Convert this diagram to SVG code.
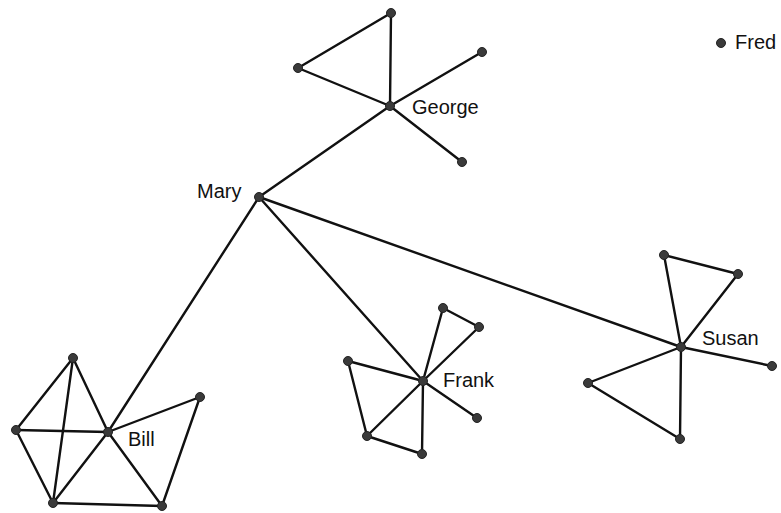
<svg xmlns="http://www.w3.org/2000/svg" width="781" height="513" viewBox="0 0 781 513">
<style>
.e{stroke:#111;stroke-width:2.4;fill:none;stroke-linecap:round}
.n{fill:#3a3a3a;stroke:#222;stroke-width:1}
.t{font-family:"Liberation Sans",Arial,sans-serif;font-size:20px;fill:#111}
</style>
<rect width="781" height="513" fill="#fff"/>
<g id="connectors" class="e">
<line x1="391" y1="13" x2="298" y2="68"/>
<line x1="391" y1="13" x2="390" y2="106"/>
<line x1="298" y1="68" x2="390" y2="106"/>
<line x1="482" y1="52" x2="390" y2="106"/>
<line x1="390" y1="106" x2="462" y2="162"/>
<line x1="390" y1="106" x2="259" y2="197"/>
<line x1="259" y1="197" x2="108" y2="432"/>
<line x1="259" y1="197" x2="423" y2="381"/>
<line x1="259" y1="197" x2="681" y2="347"/>
<line x1="73" y1="358" x2="16" y2="430"/>
<line x1="73" y1="358" x2="53" y2="503"/>
<line x1="73" y1="358" x2="108" y2="432"/>
<line x1="16" y1="430" x2="108" y2="432"/>
<line x1="16" y1="430" x2="53" y2="503"/>
<line x1="108" y1="432" x2="53" y2="503"/>
<line x1="108" y1="432" x2="162" y2="506"/>
<line x1="108" y1="432" x2="200" y2="397"/>
<line x1="200" y1="397" x2="162" y2="506"/>
<line x1="53" y1="503" x2="162" y2="506"/>
<line x1="423" y1="381" x2="443" y2="308"/>
<line x1="443" y1="308" x2="479" y2="327"/>
<line x1="479" y1="327" x2="423" y2="381"/>
<line x1="423" y1="381" x2="348" y2="361"/>
<line x1="348" y1="361" x2="367" y2="436"/>
<line x1="367" y1="436" x2="423" y2="381"/>
<line x1="367" y1="436" x2="422" y2="454"/>
<line x1="422" y1="454" x2="423" y2="381"/>
<line x1="423" y1="381" x2="477" y2="418"/>
<line x1="681" y1="347" x2="664" y2="255"/>
<line x1="664" y1="255" x2="738" y2="274"/>
<line x1="738" y1="274" x2="681" y2="347"/>
<line x1="681" y1="347" x2="772" y2="366"/>
<line x1="681" y1="347" x2="588" y2="383"/>
<line x1="588" y1="383" x2="680" y2="439"/>
<line x1="680" y1="439" x2="681" y2="347"/>
</g>
<g id="george-cluster" class="n">
<circle cx="391" cy="13" r="4.5"/>
<circle cx="298" cy="68" r="4.5"/>
<circle cx="482" cy="52" r="4.5"/>
<circle cx="462" cy="162" r="4.5"/>
</g>
<g id="george"><circle class="n" cx="390" cy="106" r="4.5"/><text class="t" x="412" y="114">George</text></g>
<g id="mary"><circle class="n" cx="259" cy="197" r="4.5"/><text class="t" x="197" y="198">Mary</text></g>
<g id="bill-cluster" class="n">
<circle cx="73" cy="358" r="4.5"/>
<circle cx="16" cy="430" r="4.5"/>
<circle cx="200" cy="397" r="4.5"/>
<circle cx="53" cy="503" r="4.5"/>
<circle cx="162" cy="506" r="4.5"/>
</g>
<g id="bill"><circle class="n" cx="108" cy="432" r="4.5"/><text class="t" x="128" y="446">Bill</text></g>
<g id="frank-cluster" class="n">
<circle cx="443" cy="308" r="4.5"/>
<circle cx="479" cy="327" r="4.5"/>
<circle cx="348" cy="361" r="4.5"/>
<circle cx="477" cy="418" r="4.5"/>
<circle cx="367" cy="436" r="4.5"/>
<circle cx="422" cy="454" r="4.5"/>
</g>
<g id="frank"><circle class="n" cx="423" cy="381" r="4.5"/><text class="t" x="443" y="387">Frank</text></g>
<g id="susan-cluster" class="n">
<circle cx="664" cy="255" r="4.5"/>
<circle cx="738" cy="274" r="4.5"/>
<circle cx="772" cy="366" r="4.5"/>
<circle cx="588" cy="383" r="4.5"/>
<circle cx="680" cy="439" r="4.5"/>
</g>
<g id="susan"><circle class="n" cx="681" cy="347" r="4.5"/><text class="t" x="702" y="345">Susan</text></g>
<g id="fred"><circle class="n" cx="721" cy="43" r="4.5"/><text class="t" x="735" y="49">Fred</text></g>
</svg>
